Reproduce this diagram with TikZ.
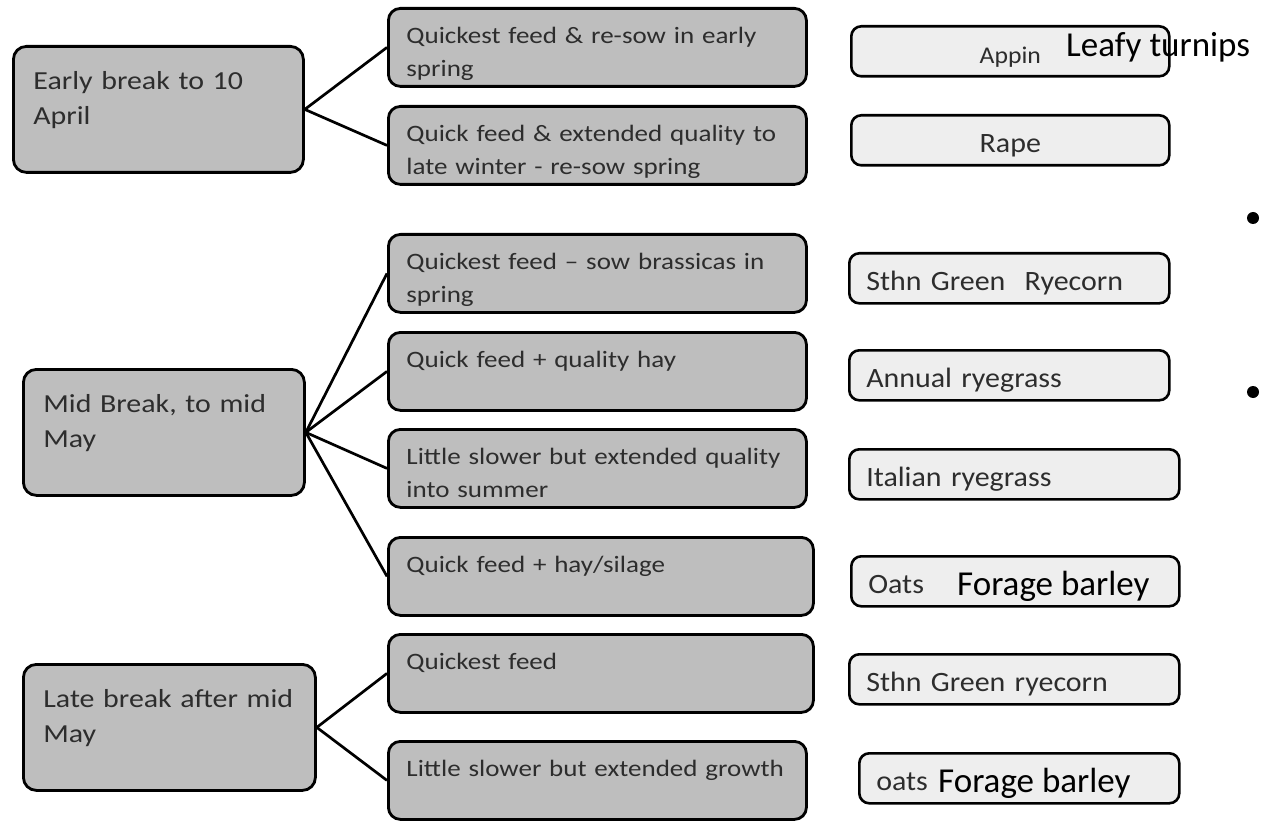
\documentclass[tikz,border=0pt]{standalone}
\usepackage{fontspec}
\setmainfont{Carlito}
\newfontfamily\boxfont[FakeStretch=1.15]{Carlito}
\newfontfamily\cropfont[FakeStretch=1.07]{Carlito}
\usetikzlibrary{positioning}

\definecolor{boxgrey}{RGB}{190,190,190}
\definecolor{cropgrey}{RGB}{238,238,238}
\definecolor{inkgrey}{RGB}{45,45,45}

\tikzset{
  breakbox/.style={draw=black, line width=2.8pt, rounded corners=13pt, fill=boxgrey,
    anchor=north west, inner xsep=20pt, inner ysep=0pt, align=left, text=inkgrey,
    text height=43pt, text depth=83pt, font=\boxfont\fontsize{26}{35}\selectfont},
  feedbox/.style={draw=black, line width=2.8pt, rounded corners=12pt, fill=boxgrey,
    anchor=north west, inner xsep=18pt, inner ysep=0pt, align=left, text=inkgrey,
    text width=382pt, text height=35pt, text depth=43pt,
    font=\boxfont\fontsize{23.5}{33}\selectfont},
  cropbox/.style={draw=black, line width=2.6pt, rounded corners=10pt, fill=cropgrey,
    anchor=north west, inner xsep=17pt, inner ysep=0pt, align=left, text=inkgrey,
    text width=286pt, text height=37pt, text depth=13pt,
    font=\cropfont\fontsize{28}{33}\selectfont},
  extra/.style={anchor=base west, inner sep=0pt, text=black, font=\fontsize{35}{40}\selectfont},
  link/.style={line width=2.7pt},
  dot/.style={circle, fill=black, inner sep=0pt, minimum size=12pt},
}

\begin{document}
\begin{tikzpicture}[x=1pt,y=-1pt]
        \useasboundingbox (0,0) rectangle (1264,821);
		% time of break
		\node[breakbox, text width=250pt] (early) at (12,45) {Early break to 10\\April};
		\node[breakbox, text width=241pt] (mid) at (22,368) {Mid Break, to mid\\May};
		\node[breakbox, text width=252pt] (late) at (22,663) {Late break after mid\\May};
		% aims
		\node[feedbox] (f1) at (387,7) {Quickest feed \& re-sow in early\\spring};
		\node[feedbox] (f2) at (387,105) {Quick feed \& extended quality to\\late winter - re-sow spring};
		\node[feedbox] (f3) at (387,233) {Quickest feed – sow brassicas in\\spring};
		\node[feedbox] (f4) at (387,331) {Quick feed + quality hay};
		\node[feedbox] (f5) at (387,428) {Little slower but extended quality\\into summer};
		\node[feedbox, text width=389pt] (f6) at (387,536) {Quick feed + hay/silage};
		\node[feedbox, text width=389pt] (f7) at (387,633) {Quickest feed};
		\node[feedbox] (f8) at (387,740) {Little slower but extended growth};
		% crops
		\node[cropbox, text width=284pt, align=center, font=\cropfont\fontsize{24}{30}\selectfont] (c1) at (850,25) {Appin};
		\node[cropbox, text width=284pt, align=center] (c2) at (850,114) {Rape};
		\node[cropbox] (c3) at (848,252) {Sthn Green\hspace{10pt} Ryecorn};
		\node[cropbox] (c4) at (848,349) {Annual ryegrass};
		\node[cropbox, text width=296pt] (c5) at (848,448) {Italian ryegrass};
		\node[cropbox, text width=294pt] (c6) at (850,555) {Oats};
		\node[cropbox, text width=296pt] (c7) at (848,653) {Sthn Green ryecorn};
		\node[cropbox, text width=286pt] (c8) at (858,752) {oats};
		\node[extra] (t1) at (1066,57) {Leafy turnips};
		\node[extra] (t2) at (957,595) {Forage barley};
		\node[extra] (t3) at (938,792) {Forage barley};
		\node[dot] (b1) at (1253,218) {};
		\node[dot] (b2) at (1253,392) {};
		\draw[link] (early.east) -- (f1.west);
		\draw[link] (early.east) -- (f2.west);
		\draw[link] (mid.east) -- (f3.west);
		\draw[link] (mid.east) -- (f4.west);
		\draw[link] (mid.east) -- (f5.west);
		\draw[link] (mid.east) -- (f6.west);
		\draw[link] (late.east) -- (f7.west);
		\draw[link] (late.east) -- (f8.west);
\end{tikzpicture}
\end{document}
